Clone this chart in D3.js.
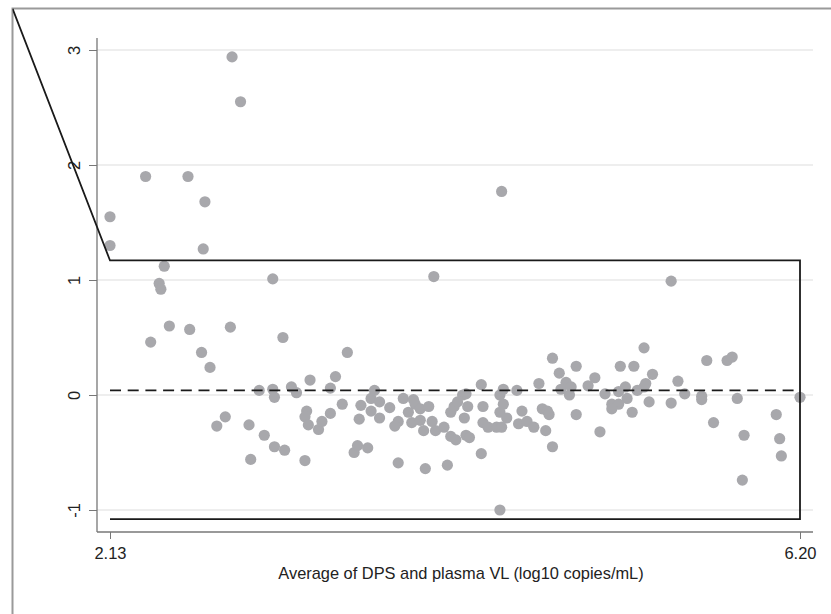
<!DOCTYPE html>
<html>
<head>
<meta charset="utf-8">
<script src="https://cdn.jsdelivr.net/npm/d3@7"></script>
<style>
  body { margin: 0; background: #fff; }
  svg { display: block; font-family: "Liberation Sans", Arial, sans-serif; }
</style>
</head>
<body>
<div id="chart"></div>
<script>
var avgVL = [
  2.85, 2.90, 2.34, 2.59, 2.69, 2.13, 2.13, 2.68, 2.45, 2.42, 2.43, 3.09, 4.04, 4.44, 5.44,
  2.48, 2.60, 2.37, 2.67, 2.72, 2.84, 3.15, 2.76, 2.81, 2.95, 3.04, 3.10, 3.16, 2.96, 3.28,
  3.01, 3.09, 3.10, 3.20, 3.23, 3.31, 3.43, 3.46, 3.29, 3.28, 3.30, 3.36, 3.38, 3.43, 3.53,
  3.50, 3.61, 3.60, 3.67, 3.69, 3.72, 3.67, 3.72, 3.78, 3.57, 3.59, 3.65, 3.83, 3.99, 4.12,
  3.86, 3.92, 3.93, 3.96, 3.89, 4.01, 3.83, 3.81, 3.91, 3.96, 3.98, 4.03, 4.05, 4.10, 4.14,
  4.17, 4.23, 4.25, 4.14, 4.16, 4.18, 4.21, 4.23, 4.24, 4.22, 4.32, 4.33, 4.33, 4.36, 4.32,
  4.43, 4.45, 4.45, 4.43, 4.47, 4.41, 4.44, 4.43, 4.53, 4.56, 4.54, 4.59, 4.63, 4.66, 4.68,
  4.71, 4.72, 4.70, 4.74, 4.74, 4.78, 4.82, 4.79, 4.85, 4.84, 4.88, 4.88, 4.99, 4.95, 5.05,
  5.02, 5.14, 5.22, 5.13, 5.17, 5.18, 5.09, 5.13, 5.09, 5.21, 5.24, 5.28, 5.33, 5.29, 5.28,
  5.31, 5.44, 5.48, 5.52, 5.62, 5.62, 5.65, 5.77, 5.80, 5.69, 5.83, 5.87, 5.86, 6.06, 6.08,
  6.09, 6.20
];
var diffVL = [
  2.94, 2.55, 1.90, 1.90, 1.68, 1.55, 1.30, 1.27, 1.12, 0.97, 0.92, 1.01, 1.03, 1.77, 0.99,
  0.60, 0.57, 0.46, 0.37, 0.24, 0.59, 0.50, -0.27, -0.19, -0.26, -0.35, -0.45, -0.48, -0.56, -0.57,
  0.04, 0.05, -0.02, 0.07, 0.02, 0.13, 0.06, 0.16, -0.14, -0.19, -0.26, -0.30, -0.23, -0.16, 0.37,
  -0.08, -0.09, -0.21, -0.03, 0.04, -0.06, -0.14, -0.20, -0.11, -0.50, -0.44, -0.46, -0.59, -0.64, -0.61,
  -0.03, -0.04, -0.08, -0.12, -0.15, -0.10, -0.23, -0.27, -0.24, -0.22, -0.31, -0.23, -0.31, -0.28, -0.36,
  -0.39, -0.35, -0.37, -0.15, -0.10, -0.06, 0.00, 0.01, -0.10, -0.20, 0.09, -0.10, -0.24, -0.28, -0.51,
  0.00, 0.05, -0.08, -0.15, -0.20, -0.28, -0.28, -1.00, 0.04, -0.14, -0.25, -0.23, -0.28, 0.10, -0.12,
  -0.14, -0.17, -0.31, -0.45, 0.32, 0.19, 0.11, 0.05, 0.07, 0.00, 0.25, -0.17, 0.15, 0.08, 0.01,
  -0.32, 0.25, 0.25, 0.03, 0.07, -0.03, -0.08, -0.08, -0.12, -0.15, 0.04, 0.41, 0.18, 0.10, 0.07,
  -0.06, -0.07, 0.12, 0.01, -0.01, -0.04, 0.30, 0.30, 0.33, -0.24, -0.03, -0.35, -0.74, -0.17, -0.38,
  -0.53, -0.02
];

// Mean difference and limits of agreement
var meanDiff = 0.04;
var upperLimit = 1.17;
var lowerLimit = -1.08;
// the upper limit line runs off to the top-left corner
var upperStart = [1.555, 3.36];

var xTicks = [2.13, 6.2];
var yTicks = [-1, 0, 1, 2, 3];
var xLabel = "Average of DPS and plasma VL (log10 copies/mL)";

var width = 831,
  height = 614;

var plot = { left: 97, right: 813, top: 38, bottom: 532 };

var points = avgVL.map(function (d, i) {
  return { x: d, y: diffVL[i] };
});

var svg = d3
  .select("#chart")
  .append("svg")
  .attr("width", width)
  .attr("height", height);

// x: 2.13 sits a little inside the y axis, 6.20 a little inside the right end
var xScale = d3.scaleLinear().domain([2.13, 6.2]).range([110, 800]);
var yScale = d3.scaleLinear().domain([-1, 3]).range([510, 50]);

// Outer frame (only top and left edges are in view)
svg
  .append("clipPath")
  .attr("id", "frame-clip")
  .append("rect")
  .attr("x", 12.5)
  .attr("y", 8.5)
  .attr("width", width)
  .attr("height", height);

svg
  .append("path")
  .attr("d", `M12.5,${height}V8.5H${width}`)
  .attr("fill", "none")
  .attr("stroke", "#9a9a9a")
  .attr("stroke-width", 2);

// Gridlines
svg
  .append("g")
  .selectAll("line")
  .data(yTicks)
  .join("line")
  .attr("x1", plot.left)
  .attr("x2", plot.right)
  .attr("y1", (d) => yScale(d))
  .attr("y2", (d) => yScale(d))
  .attr("stroke", "#e8e8e8")
  .attr("stroke-width", 1.5);

// Y axis
svg
  .append("g")
  .attr("transform", `translate(${plot.left},0)`)
  .call(d3.axisLeft(yScale).tickValues(yTicks).tickFormat((d) => String(d)).tickSize(8).tickPadding(9))
  .call((g) => g.select(".domain").remove())
  .call((g) => g.selectAll(".tick line").attr("stroke", "#777"))
  .call((g) =>
    g
      .selectAll(".tick text")
      .attr("x", 0)
      .attr("dy", 0)
      .attr("transform", "translate(-23,0) rotate(-90)")
      .attr("text-anchor", "middle")
      .attr("dominant-baseline", "central")
      .attr("font-size", 16.5)
      .attr("font-family", "Liberation Sans, Arial, sans-serif")
      .attr("fill", "#222")
  );

svg
  .append("line")
  .attr("x1", plot.left)
  .attr("x2", plot.left)
  .attr("y1", plot.top)
  .attr("y2", plot.bottom)
  .attr("stroke", "#777")
  .attr("stroke-width", 1.3);

// X axis
svg
  .append("g")
  .attr("transform", `translate(0,${plot.bottom})`)
  .call(d3.axisBottom(xScale).tickValues(xTicks).tickFormat(d3.format(".2f")).tickSize(7).tickPadding(8))
  .call((g) => g.select(".domain").remove())
  .call((g) => g.selectAll(".tick line").attr("stroke", "#777"))
  .call((g) =>
    g
      .selectAll(".tick text")
      .attr("font-size", 16.5)
      .attr("font-family", "Liberation Sans, Arial, sans-serif")
      .attr("fill", "#222")
  );

svg
  .append("line")
  .attr("x1", plot.left)
  .attr("x2", plot.right)
  .attr("y1", plot.bottom)
  .attr("y2", plot.bottom)
  .attr("stroke", "#777")
  .attr("stroke-width", 1.3);

svg
  .append("text")
  .attr("x", 461)
  .attr("y", 579)
  .attr("text-anchor", "middle")
  .attr("font-size", 16.4)
  .attr("fill", "#222")
  .text(xLabel);

// Points
svg
  .append("g")
  .attr("fill", "#a8a8ac")
  .selectAll("circle")
  .data(points)
  .join("circle")
  .attr("cx", (d) => xScale(d.x))
  .attr("cy", (d) => yScale(d.y))
  .attr("r", 5.6);

// Mean difference (dashed)
svg
  .append("line")
  .attr("x1", xScale(xTicks[0]))
  .attr("x2", xScale(xTicks[1]))
  .attr("y1", yScale(meanDiff))
  .attr("y2", yScale(meanDiff))
  .attr("stroke", "#1a1a1a")
  .attr("stroke-width", 1.8)
  .attr("stroke-dasharray", "11,6.7");

// Limits of agreement
var limitPath = [
  upperStart,
  [xTicks[0], upperLimit],
  [xTicks[1], upperLimit],
  [xTicks[1], lowerLimit],
  [xTicks[0], lowerLimit],
];

svg
  .append("path")
  .datum(limitPath)
  .attr("clip-path", "url(#frame-clip)")
  .attr("fill", "none")
  .attr("stroke", "#1a1a1a")
  .attr("stroke-width", 1.8)
  .attr(
    "d",
    d3
      .line()
      .x((d) => xScale(d[0]))
      .y((d) => yScale(d[1]))
  );
</script>
</body>
</html>
